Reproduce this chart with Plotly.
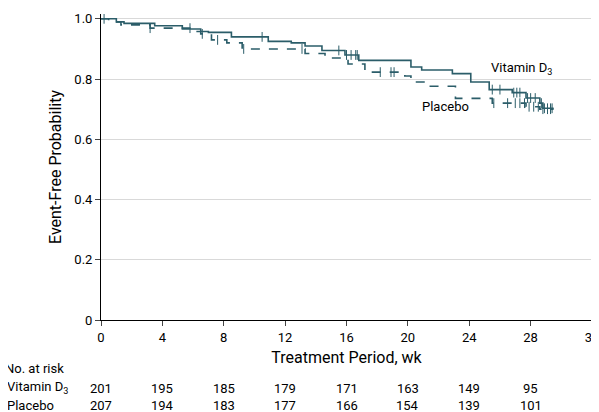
import plotly.graph_objects as go
import bisect

vit_t = [0, 1.0, 1.5, 3.5, 5.3, 6.5, 7.0, 8.5, 10.9, 12.4, 13.3, 14.4, 15.9, 16.8, 20.2, 20.9, 22.9, 24.1, 25.3, 26.8, 27.7, 28.6, 28.8, 29.5]
vit_s = [1.0, 0.99, 0.985, 0.977, 0.966, 0.958, 0.955, 0.94, 0.925, 0.92, 0.91, 0.895, 0.88, 0.862, 0.84, 0.83, 0.818, 0.79, 0.765, 0.755, 0.737, 0.72, 0.703, 0.703]
pla_t = [0, 0.5, 1.3, 3.2, 5.9, 6.5, 7.2, 8.2, 9.2, 13.3, 14.6, 16.1, 17.2, 19.8, 20.2, 21.1, 23.1, 25.5, 27.7, 28.6, 29.5]
pla_s = [1.0, 0.99, 0.98, 0.969, 0.958, 0.95, 0.93, 0.92, 0.90, 0.885, 0.87, 0.85, 0.823, 0.81, 0.79, 0.776, 0.736, 0.72, 0.708, 0.70, 0.70]
vit_cens = [0.2, 10.5, 15.5, 16.0, 16.3, 16.6, 16.7, 25.5, 26.0, 26.9, 27.1, 27.3, 27.8, 28.0, 28.3, 28.7, 28.9, 29.1, 29.3, 29.4]
pla_cens = [3.2, 5.8, 6.6, 7.6, 9.3, 13.1, 18.2, 18.9, 19.1, 25.6, 26.5, 27.0, 27.3, 27.6, 27.9, 28.2, 28.5, 28.8, 29.1, 29.3]

risk_x = [0, 4, 8, 12, 16, 20, 24, 28]
risk_vit = [201, 195, 185, 179, 171, 163, 149, 95]
risk_pla = [207, 194, 183, 177, 166, 154, 139, 101]

C = "#2b5d69"
F = "Liberation Sans Narrow, Roboto, sans-serif"

def at(ts, ss, x):
    return ss[bisect.bisect_right(ts, x) - 1]

fig = go.Figure()
fig.add_trace(go.Scatter(x=pla_t, y=pla_s, mode="lines", line=dict(color=C, width=1.6, dash="dash", shape="hv")))
fig.add_trace(go.Scatter(x=vit_t, y=vit_s, mode="lines", line=dict(color=C, width=1.6, shape="hv")))
fig.add_trace(go.Scatter(x=pla_cens, y=[at(pla_t, pla_s, x) for x in pla_cens], mode="markers",
                         marker=dict(symbol="line-ns", size=7, line=dict(color=C, width=1))))
fig.add_trace(go.Scatter(x=vit_cens, y=[at(vit_t, vit_s, x) for x in vit_cens], mode="markers",
                         marker=dict(symbol="line-ns", size=7, line=dict(color=C, width=1))))

ann = [
    dict(x=25.3, y=0.835, text="Vitamin D<sub>3</sub>", xanchor="left", yanchor="middle", showarrow=False),
    dict(x=20.8, y=0.71, text="Placebo", xanchor="left", yanchor="middle", showarrow=False),
    dict(x=-0.2, xref="paper", y=0, yref="paper", yshift=-58, text="No. at risk", xanchor="left", showarrow=False),
    dict(x=-0.195, xref="paper", y=0, yref="paper", yshift=-78, text="Vitamin D<sub>3</sub>", xanchor="left", showarrow=False),
    dict(x=-0.195, xref="paper", y=0, yref="paper", yshift=-95, text="Placebo", xanchor="left", showarrow=False),
]
for x, a, b in zip(risk_x, risk_vit, risk_pla):
    ann.append(dict(x=x, y=0, yref="paper", yshift=-78, text=str(a), showarrow=False))
    ann.append(dict(x=x, y=0, yref="paper", yshift=-95, text=str(b), showarrow=False))

fig.update_layout(
    width=599, height=412, margin=dict(l=93, r=15, t=3, b=100),
    plot_bgcolor="white", paper_bgcolor="white", showlegend=False,
    font=dict(family=F, size=13, color="black"),
    annotations=ann,
    xaxis=dict(range=[0, 32], tickvals=list(range(0, 33, 4)), showgrid=False, zeroline=False,
               showline=True, linecolor="black", ticks="outside", ticklen=5,
               title=dict(text="Treatment Period, wk", standoff=8)),
    yaxis=dict(range=[0, 1.016], tickvals=[0, 0.2, 0.4, 0.6, 0.8, 1.0], ticktext=["0", "0.2", "0.4", "0.6", "0.8", "1.0"],
               showgrid=True, gridcolor="#d9d9d9", zeroline=False, showline=True, linecolor="black",
               ticks="outside", ticklen=5, title=dict(text="Event-Free Probability", standoff=8)),
)
fig.write_html("out.html")
